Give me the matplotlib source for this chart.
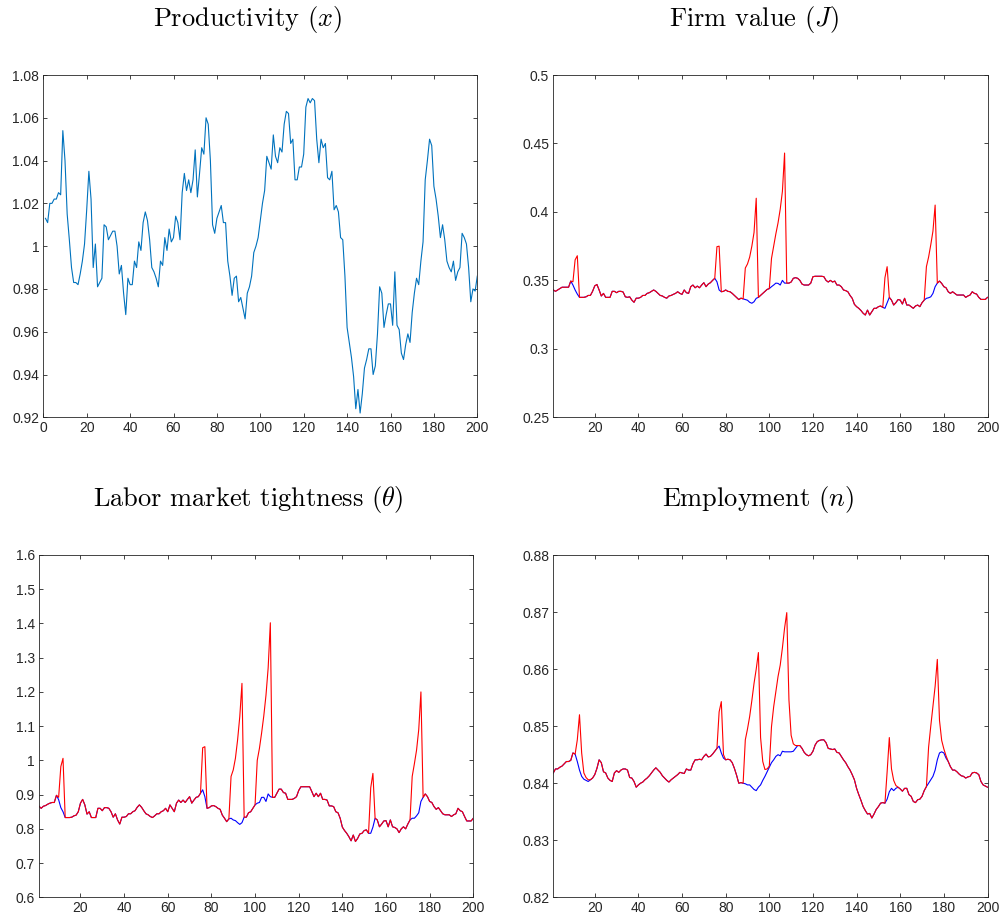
import numpy as np
import matplotlib
matplotlib.use("Agg")
import matplotlib.pyplot as plt

plt.rcParams["mathtext.fontset"] = "cm"
plt.rcParams["font.family"] = ["Liberation Sans", "DejaVu Sans"]

T = np.arange(1, 201)

# productivity x_t
prod = [1.013, 1.011, 1.020, 1.020, 1.022, 1.022, 1.025, 1.024, 1.054, 1.040,
        1.015, 1.003, 0.990, 0.983, 0.983, 0.982, 0.987, 0.993, 1.001, 1.017,
        1.035, 1.022, 0.990, 1.001, 0.981, 0.983, 0.985, 1.010, 1.009, 1.003,
        1.005, 1.007, 1.007, 1.000, 0.987, 0.991, 0.978, 0.968, 0.985, 0.982,
        0.982, 0.993, 0.990, 1.002, 0.998, 1.011, 1.016, 1.012, 1.003, 0.990,
        0.988, 0.985, 0.981, 0.993, 0.991, 1.004, 0.998, 1.008, 1.002, 1.004,
        1.014, 1.011, 1.003, 1.025, 1.034, 1.026, 1.031, 1.025, 1.031, 1.045,
        1.023, 1.034, 1.046, 1.043, 1.060, 1.057, 1.040, 1.010, 1.006, 1.013,
        1.016, 1.019, 1.011, 1.011, 0.993, 0.986, 0.977, 0.985, 0.986, 0.974,
        0.976, 0.971, 0.966, 0.978, 0.981, 0.986, 0.997, 1.000, 1.004, 1.012,
        1.020, 1.026, 1.042, 1.039, 1.036, 1.052, 1.042, 1.039, 1.046, 1.044,
        1.057, 1.063, 1.062, 1.048, 1.050, 1.031, 1.031, 1.037, 1.037, 1.043,
        1.065, 1.069, 1.067, 1.069, 1.068, 1.050, 1.039, 1.050, 1.046, 1.048,
        1.032, 1.031, 1.035, 1.017, 1.019, 1.016, 1.004, 1.003, 0.986, 0.962,
        0.955, 0.948, 0.939, 0.924, 0.933, 0.922, 0.931, 0.943, 0.947, 0.952,
        0.952, 0.940, 0.944, 0.959, 0.981, 0.978, 0.962, 0.968, 0.973, 0.973,
        0.963, 0.988, 0.963, 0.961, 0.950, 0.947, 0.954, 0.959, 0.955, 0.969,
        0.978, 0.985, 0.982, 0.993, 1.002, 1.031, 1.040, 1.050, 1.047, 1.028,
        1.022, 1.014, 1.004, 1.010, 1.003, 0.993, 0.990, 0.988, 0.993, 0.984,
        0.988, 0.990, 1.006, 1.004, 1.001, 0.990, 0.974, 0.980, 0.979, 0.986]

# firm value J, blue path
J_blue = [0.343, 0.342, 0.343, 0.344, 0.345, 0.345, 0.345, 0.345, 0.3495, 0.3466,
          0.343, 0.340, 0.3376, 0.3376, 0.3376, 0.3380, 0.339, 0.339, 0.342, 0.346,
          0.347, 0.343, 0.3386, 0.3405, 0.3376, 0.3376, 0.3376, 0.342, 0.342, 0.341,
          0.342, 0.342, 0.3415, 0.338, 0.3376, 0.338, 0.3356, 0.334, 0.337, 0.337,
          0.3376, 0.339, 0.339, 0.3405, 0.341, 0.342, 0.343, 0.342, 0.3405, 0.339,
          0.3386, 0.3376, 0.337, 0.3386, 0.339, 0.3398, 0.3405, 0.3417, 0.3405, 0.3398,
          0.343, 0.341, 0.3405, 0.3454, 0.3466, 0.3446, 0.3458, 0.3446, 0.3466, 0.3483,
          0.3454, 0.3473, 0.3483, 0.350, 0.3515, 0.349, 0.343, 0.3417, 0.342, 0.343,
          0.342, 0.3417, 0.3405, 0.339, 0.3376, 0.336, 0.337, 0.3365, 0.336, 0.3355,
          0.334, 0.3333, 0.3344, 0.3369, 0.3376, 0.339, 0.3405, 0.342, 0.3434, 0.344,
          0.3454, 0.3466, 0.348, 0.3478, 0.3466, 0.350, 0.348, 0.348, 0.348, 0.3488,
          0.3515, 0.352, 0.3515, 0.350, 0.3473, 0.3466, 0.3466, 0.3466, 0.348, 0.3527,
          0.353, 0.353, 0.353, 0.353, 0.3527, 0.350, 0.3488, 0.350, 0.3488, 0.3495,
          0.3466, 0.3466, 0.3454, 0.343, 0.3425, 0.3417, 0.339, 0.3369, 0.3325, 0.3308,
          0.3296, 0.328, 0.326, 0.3247, 0.3283, 0.3247, 0.3271, 0.3296, 0.3296, 0.3308,
          0.3313, 0.3303, 0.3296, 0.3337, 0.3376, 0.3356, 0.332, 0.3337, 0.336, 0.3356,
          0.3327, 0.3369, 0.332, 0.332, 0.3308, 0.3296, 0.3313, 0.332, 0.3308, 0.3337,
          0.3356, 0.3369, 0.3373, 0.338, 0.3405, 0.3454, 0.348, 0.3495, 0.3478, 0.3454,
          0.3446, 0.3417, 0.3405, 0.3417, 0.3405, 0.3393, 0.3393, 0.3393, 0.3393, 0.3376,
          0.3386, 0.3393, 0.3417, 0.3405, 0.340, 0.3376, 0.3361, 0.3361, 0.3361, 0.3376]
# red path: same as blue except these periods
J_red_t = [10, 11, 12, 76, 77, 89, 90, 91, 92, 93, 94,
           101, 102, 103, 104, 105, 106, 107, 153, 154, 172, 173, 174, 175, 176]
J_red_v = [0.349, 0.365, 0.368, 0.3746, 0.375, 0.359, 0.362, 0.367, 0.375, 0.385, 0.410,
           0.366, 0.375, 0.384, 0.392, 0.402, 0.415, 0.443, 0.352, 0.360,
           0.360, 0.367, 0.376, 0.386, 0.405]

# labor market tightness theta, blue path
th_blue = [0.866, 0.860, 0.866, 0.868, 0.872, 0.875, 0.877, 0.877, 0.898, 0.885,
           0.862, 0.850, 0.833, 0.833, 0.833, 0.834, 0.838, 0.840, 0.850, 0.875,
           0.886, 0.870, 0.843, 0.850, 0.833, 0.833, 0.833, 0.860, 0.860, 0.853,
           0.862, 0.862, 0.860, 0.850, 0.834, 0.844, 0.826, 0.814, 0.834, 0.834,
           0.836, 0.844, 0.844, 0.850, 0.853, 0.863, 0.870, 0.863, 0.853, 0.844,
           0.841, 0.836, 0.833, 0.838, 0.844, 0.844, 0.850, 0.853, 0.860, 0.850,
           0.870, 0.860, 0.850, 0.875, 0.884, 0.877, 0.884, 0.877, 0.886, 0.894,
           0.875, 0.884, 0.892, 0.894, 0.904, 0.914, 0.894, 0.860, 0.862, 0.867,
           0.868, 0.865, 0.860, 0.857, 0.840, 0.831, 0.821, 0.829, 0.831, 0.826,
           0.824, 0.818, 0.813, 0.818, 0.834, 0.834, 0.847, 0.850, 0.860, 0.870,
           0.875, 0.877, 0.892, 0.892, 0.880, 0.902, 0.894, 0.892, 0.892, 0.904,
           0.916, 0.916, 0.906, 0.904, 0.886, 0.886, 0.886, 0.889, 0.894, 0.912,
           0.923, 0.923, 0.923, 0.923, 0.923, 0.909, 0.894, 0.904, 0.894, 0.904,
           0.886, 0.886, 0.884, 0.867, 0.867, 0.865, 0.850, 0.847, 0.831, 0.805,
           0.795, 0.787, 0.777, 0.765, 0.782, 0.763, 0.772, 0.785, 0.787, 0.795,
           0.797, 0.787, 0.787, 0.805, 0.831, 0.826, 0.806, 0.814, 0.823, 0.824,
           0.806, 0.826, 0.806, 0.804, 0.800, 0.789, 0.800, 0.806, 0.800, 0.814,
           0.826, 0.831, 0.831, 0.838, 0.847, 0.880, 0.892, 0.902, 0.894, 0.880,
           0.877, 0.865, 0.857, 0.862, 0.853, 0.844, 0.841, 0.841, 0.841, 0.836,
           0.841, 0.844, 0.860, 0.853, 0.850, 0.836, 0.823, 0.823, 0.823, 0.831]
th_red_t = [10, 11, 12, 76, 77, 89, 90, 91, 92, 93, 94,
            101, 102, 103, 104, 105, 106, 107, 153, 154, 172, 173, 174, 175, 176]
th_red_v = [0.892, 0.982, 1.006, 1.037, 1.040, 0.953, 0.972, 1.006, 1.060, 1.128, 1.225,
            1.000, 1.035, 1.080, 1.130, 1.190, 1.270, 1.402, 0.920, 0.962,
            0.953, 0.990, 1.030, 1.090, 1.200]

# employment n, blue path
n_blue = [0.8418, 0.8425, 0.8425, 0.8428, 0.8430, 0.8434, 0.8438, 0.8438, 0.8440, 0.8453,
          0.8451, 0.8438, 0.8423, 0.8412, 0.8407, 0.8405, 0.8403, 0.8406, 0.8409, 0.8415,
          0.8426, 0.8441, 0.8436, 0.8420, 0.8418, 0.8409, 0.8405, 0.8403, 0.8418, 0.8422,
          0.8419, 0.8423, 0.8425, 0.8425, 0.8423, 0.8410, 0.8409, 0.8403, 0.8393, 0.8397,
          0.8400, 0.8402, 0.8406, 0.8409, 0.8413, 0.8418, 0.8423, 0.8427, 0.8423, 0.8419,
          0.8413, 0.8409, 0.8405, 0.8402, 0.8406, 0.8409, 0.8412, 0.8415, 0.8419, 0.8418,
          0.8417, 0.8425, 0.8423, 0.8423, 0.8434, 0.8441, 0.8441, 0.8442, 0.8441, 0.8447,
          0.8451, 0.8446, 0.8447, 0.8451, 0.8456, 0.8461, 0.8465, 0.8453, 0.8444, 0.8441,
          0.8442, 0.8441, 0.8436, 0.8426, 0.8414, 0.8400, 0.8401, 0.8400, 0.8399, 0.8397,
          0.8397, 0.8393, 0.8389, 0.8387, 0.8393, 0.8397, 0.8405, 0.8412, 0.8420, 0.8428,
          0.8436, 0.8441, 0.8447, 0.8450, 0.8448, 0.8456, 0.8455, 0.8455, 0.8455, 0.8455,
          0.8456, 0.8461, 0.8466, 0.8466, 0.8461, 0.8454, 0.8450, 0.8448, 0.8450, 0.8456,
          0.8467, 0.8473, 0.8475, 0.8476, 0.8476, 0.8471, 0.8461, 0.8460, 0.8459, 0.8460,
          0.8454, 0.8453, 0.8447, 0.8441, 0.8436, 0.8429, 0.8423, 0.8415, 0.8406, 0.8391,
          0.8380, 0.8370, 0.8359, 0.8352, 0.8346, 0.8347, 0.8339, 0.8346, 0.8354, 0.8359,
          0.8365, 0.8366, 0.8365, 0.8372, 0.8385, 0.8391, 0.8387, 0.8391, 0.8393, 0.8390,
          0.8386, 0.8391, 0.8391, 0.8380, 0.8377, 0.8368, 0.8366, 0.8371, 0.8372, 0.8377,
          0.8387, 0.8394, 0.8400, 0.8406, 0.8412, 0.8423, 0.8441, 0.8453, 0.8455, 0.8453,
          0.8444, 0.8438, 0.8429, 0.8423, 0.8423, 0.8420, 0.8416, 0.8413, 0.8412, 0.8409,
          0.8411, 0.8412, 0.8418, 0.8419, 0.8418, 0.8415, 0.8403, 0.8397, 0.8395, 0.8393]
n_red_t = [12, 13, 14, 15, 16, 17, 77, 78, 79,
           89, 90, 91, 92, 93, 94, 95, 96, 97, 98, 99, 100,
           101, 102, 103, 104, 105, 106, 107, 108, 109, 110, 111, 112,
           154, 155, 156, 157, 158, 173, 174, 175, 176, 177, 178, 179, 180, 181]
n_red_v = [0.8476, 0.8520, 0.8453, 0.8418, 0.8410, 0.8406, 0.8525, 0.8543, 0.8450,
           0.8476, 0.8495, 0.8517, 0.8545, 0.8575, 0.8600, 0.8629, 0.8480, 0.8438,
           0.8424, 0.8425, 0.8430,
           0.8499, 0.8534, 0.8561, 0.8587, 0.8607, 0.8637, 0.8672, 0.8699, 0.8546,
           0.8484, 0.8469, 0.8466,
           0.8420, 0.8480, 0.8425, 0.8405, 0.8396,
           0.8463, 0.8500, 0.8535, 0.8570, 0.8617, 0.8510, 0.8475, 0.8460, 0.8448]

TITLES = ["Productivity ($x$)", "Firm value ($J$)",
          "Labor market tightness ($\\theta$)", "Employment ($n$)"]

X1_TICKS = [0, 20, 40, 60, 80, 100, 120, 140, 160, 180, 200]
X_TICKS = [20, 40, 60, 80, 100, 120, 140, 160, 180, 200]
Y_PROD = [0.92, 0.94, 0.96, 0.98, 1.0, 1.02, 1.04, 1.06, 1.08]
Y_PROD_LAB = ["0.92", "0.94", "0.96", "0.98", "1", "1.02", "1.04", "1.06", "1.08"]
Y_J = [0.25, 0.3, 0.35, 0.4, 0.45, 0.5]
Y_J_LAB = ["0.25", "0.3", "0.35", "0.4", "0.45", "0.5"]
Y_TH = [0.6, 0.7, 0.8, 0.9, 1.0, 1.1, 1.2, 1.3, 1.4, 1.5, 1.6]
Y_TH_LAB = ["0.6", "0.7", "0.8", "0.9", "1", "1.1", "1.2", "1.3", "1.4", "1.5", "1.6"]
Y_N = [0.82, 0.83, 0.84, 0.85, 0.86, 0.87, 0.88]
Y_N_LAB = ["0.82", "0.83", "0.84", "0.85", "0.86", "0.87", "0.88"]


def red_path(blue, ts, vs):
    r = np.array(blue, dtype=float)
    r[np.array(ts) - 1] = vs
    return r


W, H = 1001, 922
fig = plt.figure(figsize=(W / 100, H / 100), dpi=100)
INK = "#262626"


def make_ax(l, t, r, b):
    ax = fig.add_axes([l / W, 1 - b / H, (r - l) / W, (b - t) / H])
    ax.tick_params(direction="in", top=True, right=True, length=3.2, width=0.6,
                   colors=INK, labelsize=10, pad=3)
    for s in ax.spines.values():
        s.set_color(INK); s.set_linewidth(0.6)
    return ax


ax1 = make_ax(43.3, 75, 477.3, 417.3)
ax2 = make_ax(553.3, 75, 987.5, 417.3)
ax3 = make_ax(39, 555, 473.3, 897.3)
ax4 = make_ax(553.3, 555, 987.5, 897.3)

ax1.plot(T, prod, color="#0072BD", lw=0.8)
ax1.set_xlim(0, 200); ax1.set_xticks(X1_TICKS)
ax1.set_ylim(0.92, 1.08); ax1.set_yticks(Y_PROD); ax1.set_yticklabels(Y_PROD_LAB)

panels = [(ax2, J_blue, J_red_t, J_red_v, (0.25, 0.5), Y_J, Y_J_LAB),
          (ax3, th_blue, th_red_t, th_red_v, (0.6, 1.6), Y_TH, Y_TH_LAB),
          (ax4, n_blue, n_red_t, n_red_v, (0.82, 0.88), Y_N, Y_N_LAB)]
for ax, blue, rt, rv, yl, yt, ylab in panels:
    ax.plot(T, blue, color="blue", lw=0.8)
    ax.plot(T, red_path(blue, rt, rv), color="red", lw=0.8)
    ax.set_xlim(1, 200); ax.set_xticks(X_TICKS)
    ax.set_ylim(*yl); ax.set_yticks(yt); ax.set_yticklabels(ylab)

for (cx, by), txt in zip([(248, 26), (754, 26), (248, 506), (758, 506)], TITLES):
    fig.text(cx / W, 1 - by / H, txt, ha="center", va="baseline",
             fontsize=19, family="cmr10", color="black")

fig.savefig("out.png", dpi=100)
